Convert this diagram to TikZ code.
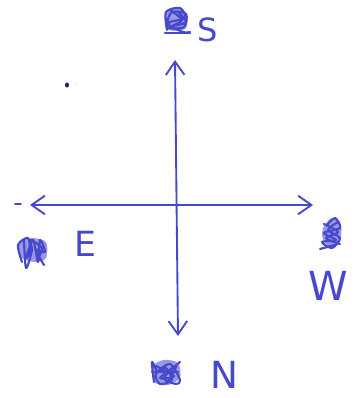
\documentclass[tikz,border=0pt]{standalone}
\usepackage{fontspec}
\setmainfont{DejaVu Sans}
\usetikzlibrary{arrows.meta}
\definecolor{ink}{RGB}{70,72,205}
\begin{document}
\begin{tikzpicture}[x=0.75pt,y=-0.75pt,
  pen/.style={draw=ink,line width=1.4pt,line cap=round,line join=round},
  barb/.tip={Straight Barb[length=10pt,width=14pt,line width=1.4pt]},
  axis/.style={pen,barb-barb},
  lbl/.style={text=ink,inner sep=0pt},
  scrib/.style={pen,line width=1.6pt},
  blob/.style={fill=ink,fill opacity=0.55,draw=none}]
\useasboundingbox (0,0) rectangle (360,398);
\fill[white] (0,0) rectangle (360,398);
% axis ends
\coordinate (top) at (175,60);
\coordinate (bot) at (178,336);
\coordinate (lft) at (30,205);
\coordinate (rgt) at (313,205);
\draw[axis] (top) -- (bot);
\draw[axis] (lft) -- (rgt);
\draw[pen] (15,204) -- (21,204);
% dots
\fill[ink!50!black] (67,85) ellipse (2 and 2.6);
\fill[ink!40] (76,84) circle (0.7);
% labels
\node[lbl,font=\fontsize{24}{24}\selectfont] (S) at (208,30) {S};
\node[lbl,font=\fontsize{26}{26}\selectfont] (E) at (85,244) {E};
\node[lbl,font=\fontsize{30}{30}\selectfont] (W) at (328,286) {W};
\node[lbl,font=\fontsize{28}{28}\selectfont] (N) at (224,375) {N};
% scribbles (crossed-out letters)
\fill[blob] plot[smooth cycle] coordinates {(167,12) (178,8) (187,14) (186,28) (176,31) (166,28)};
\draw[scrib] plot[smooth] coordinates {(167,30) (166,12) (180,8) (185,18) (170,22) (168,28) (184,27) (186,14) (172,12) (168,24) (183,32) (190,32)};
\draw[scrib] plot[smooth] coordinates {(170,10) (182,20) (172,26) (186,22) (178,12)};
\draw[scrib] (165,33) -- (190,33);
\fill[blob] plot[smooth cycle] coordinates {(18,245) (30,238) (46,242) (46,258) (36,262) (22,258)};
\draw[scrib] plot[smooth] coordinates {(22,262) (18,245) (28,238) (30,252) (26,258) (33,240) (38,262) (40,240) (45,252) (36,250) (44,265)};
\draw[scrib] plot[smooth] coordinates {(24,240) (26,268) (32,250) (30,240) (42,248) (38,258)};
\fill[blob] plot[smooth cycle] coordinates {(323,228) (332,218) (341,226) (340,240) (331,247) (323,240)};
\draw[scrib] plot[smooth] coordinates {(327,225) (335,218) (340,228) (324,233) (336,240) (322,242) (332,248) (340,238) (328,230) (338,222)};
\draw[scrib] plot[smooth] coordinates {(324,224) (338,232) (326,238) (340,244)};
\draw[scrib] (320,249) -- (335,245);
\fill[blob] plot[smooth cycle] coordinates {(153,366) (164,360) (178,363) (180,378) (168,385) (154,382)};
\draw[scrib] plot[smooth] coordinates {(154,382) (152,362) (158,372) (166,368) (172,380) (160,384) (156,374) (170,364) (180,380) (176,384) (164,378) (180,362)};
\draw[scrib] plot[smooth] coordinates {(156,366) (174,376) (160,378) (176,366) (168,382)};
\draw[scrib] (152,372) -- (178,372);
\end{tikzpicture}
\end{document}
